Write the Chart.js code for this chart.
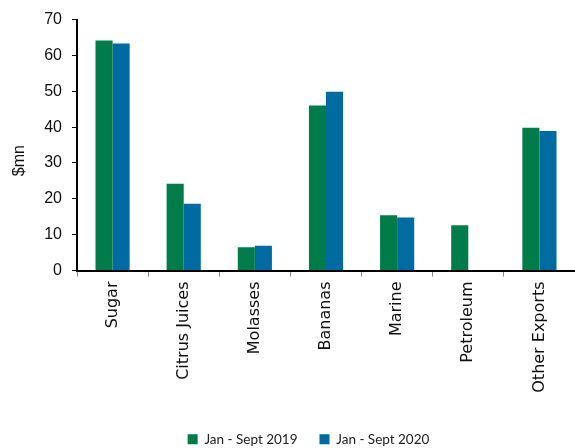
<!DOCTYPE html>
<html>
<head>
<meta charset="utf-8">
<script src="https://cdn.jsdelivr.net/npm/chart.js@4/dist/chart.umd.min.js"></script>
<style>
  html, body { margin: 0; padding: 0; background: #fff; }
  #wrap { width: 575px; height: 448px; }
</style>
</head>
<body>
<div id="wrap"><canvas id="c" width="575" height="448"></canvas></div>
<script>
// Export categories and values ($ million)
const categories = ["Sugar", "Citrus Juices", "Molasses", "Bananas", "Marine", "Petroleum", "Other Exports"];
const seriesNames = ["Jan - Sept 2019", "Jan - Sept 2020"];
const values2019 = [64.2, 24.2, 6.5, 46.0, 15.4, 12.6, 39.8];
const values2020 = [63.3, 18.6, 6.9, 49.9, 14.8, null, 38.9];
const yTicks = [0, 10, 20, 30, 40, 50, 60, 70];

const GREEN = "#007C4A";
const BLUE = "#006BA1";

// Move the bottom legend a little right and down under the plot
const legendShift = {
  id: "legendShift",
  afterLayout(chart) {
    const lg = chart.legend;
    if (lg) { lg.left += 21; lg.right += 21; lg.top += 8; lg.bottom += 8; }
  }
};

new Chart(document.getElementById("c"), {
  type: "bar",
  data: {
    labels: categories,
    datasets: [
      { label: seriesNames[0], data: values2019, backgroundColor: GREEN, categoryPercentage: 0.48, barPercentage: 1.0 },
      { label: seriesNames[1], data: values2020, backgroundColor: BLUE, categoryPercentage: 0.48, barPercentage: 1.0 }
    ]
  },
  options: {
    responsive: false,
    animation: false,
    layout: { padding: { left: 0, right: 0, top: 19, bottom: 0 } },
    plugins: {
      tooltip: { enabled: false },
      legend: {
        position: "bottom",
        labels: {
          boxWidth: 10,
          boxHeight: 10,
          padding: 22,
          color: "#222",
          font: { family: "Lato", size: 13.5 }
        }
      }
    },
    scales: {
      x: {
        grid: { drawOnChartArea: false, drawTicks: true, tickLength: 6, color: "#888", offset: true },
        border: { color: "#000", width: 2 },
        ticks: {
          minRotation: 90, maxRotation: 90, padding: 5,
          color: "#111",
          font: { family: "DejaVu Sans", size: 16 }
        },
        afterFit(scale) { scale.height = 132; }
      },
      y: {
        min: 0, max: 70,
        afterBuildTicks(scale) { scale.ticks = yTicks.map(v => ({ value: v })); },
        grid: { drawOnChartArea: false, drawTicks: true, tickLength: 5, color: "#000" },
        border: { color: "#000", width: 2 },
        ticks: {
          padding: 10,
          color: "#111",
          font: { family: "Liberation Sans", size: 16 }
        },
        title: {
          display: true,
          text: "$mn       ",
          color: "#111",
          padding: { top: 10, bottom: 0 },
          font: { family: "Liberation Sans", size: 16 }
        },
        afterFit(scale) { scale.width = 77; }
      }
    }
  },
  plugins: [legendShift]
});
</script>
</body>
</html>
